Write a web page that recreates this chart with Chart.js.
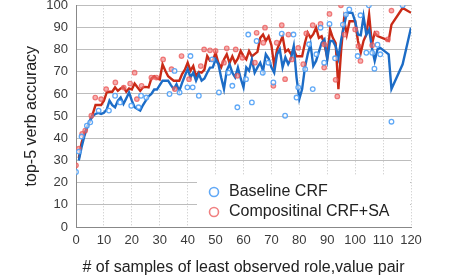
<!DOCTYPE html>
<html>
<head>
<meta charset="utf-8">
<script src="https://cdn.jsdelivr.net/npm/chart.js@4.4.1/dist/chart.umd.min.js"></script>
<style>
html,body{margin:0;padding:0;background:#fff;}
#wrap{width:476px;height:279px;position:relative;}
</style>
</head>
<body>
<div id="wrap"><canvas id="chartzz"></canvas></div>
<script>
// axis ticks
const xTicks = [0,10,20,30,40,50,60,70,80,90,100,110,120];
const yTicks = [0,10,20,30,40,50,60,70,80,90,100];

const seriesNames = ['Baseline CRF', 'Compositinal CRF+SA'];

// Baseline CRF - line
const baseLineX = [1,2,3,4,5,6,7,8,9,10,11,12,13,14,15,16,17,18,19,20,21,22,23,24,25,26,27,28,29,30,
	31,32,33,34,35,36,37,38,39,40,41,42,43,44,45,46,47,48,49,50,51,52,53,54,55,56,57,58,59,60,
	61,62,63,64,65,66,67,68,69,70,71,72,73,74,75,76,77,78,79,80,81,82,83,84,85,86,87,88,89,90,
	91,92,93,94,95,96,97,98,99,100,101,102,103,104,105,106,107,108,109,112,113,117,120];
const baseLineY = [30,36,41,45,48,50,51,51.5,51,51.5,53,57,55,54,57,58.4,55.5,58,60.7,57,54,53.2,52.5,55,57,59,60,62,62,64,
	66,66,66,64,62.2,64.4,61.4,65,68.2,71.2,67.5,69.6,66,69,66,67,69.6,71.9,72,75.6,73.5,67.4,62.2,70.6,73.4,69.6,67.5,71.9,67,63,
	72,70.5,75.6,69.6,72,74.1,70.4,77.9,76,72,69.6,77.9,80.1,72,76.5,73.5,76,81.6,67.4,57.7,62.2,71.9,77.9,82.4,72.6,74.9,79,83.1,84.6,75.6,
	83.9,83.9,81.6,76.3,84.6,90.6,96.6,96.6,96.6,92.8,86.8,86.5,95,86.8,89,80.8,74.9,80.1,80.8,77.9,62.2,73.4,89.9];

// Compositinal CRF+SA - line
const compLineX = [1,2,3,4,5,6,7,8,9,10,11,12,13,14,15,16,17,18,19,20,21,22,23,24,25,26,27,28,29,30,
	31,32,33,34,35,36,37,38,39,40,41,42,43,44,45,46,47,48,49,50,51,52,53,54,55,56,57,58,59,60,
	61,62,63,64,65,66,67,68,69,70,71,72,73,74,75,76,77,78,79,80,81,82,83,84,85,86,87,88,89,90,
	91,92,93,94,95,96,97,98,99,100,101,102,103,104,105,106,107,108,111,112,113,117,120];
const compLineY = [31,38,42,45,48,51,55,55,55,57,60.7,61,61,63,61.4,62.5,63.2,61,62.5,62,64.7,63,61.4,63,63.2,63,67,68,67,66.6,
	73.4,70.5,68,67,66,66,66,69,71,74.1,70.5,72.6,68,70,69.6,71,77.1,75,75,78.6,74,72,75.6,77.9,74,77,74,76,79.4,77,
	75.6,79.4,77,78,79,85.3,86.8,84,86,82,72.6,80,83,86,79,80,78,80,77,77,77,83,87.6,85.3,87,89.9,85.3,86,82.4,76.3,
	89.1,85.3,83,62.2,80.1,93.6,86.8,92.8,92.8,92.8,83.9,78.6,84,86.8,95.8,82.4,87.6,86.1,84.6,84,91.3,98.8,96.6];

// Baseline CRF - scattered samples
const basePtsX = [0,1,2,3.9,5.1,8.1,11.8,14,15.8,19.8,22.4,23.3,25.2,33.5,35.3,37.1,39.9,41,41.8,44,
	48.8,51.2,54.6,56,57.8,60.9,61.7,63,64.7,66.9,68.9,70.7,73.7,74.9,77.9,79,79.6,82.1,83.5,84.8,
	86.1,87.6,88.9,90.8,92.8,95.6,96.7,97.9,100.9,101.9,104,104.9,106.1,106.9,108,109,113,117];
const basePtsY = [24.8,34,40.8,45.7,47.2,52.5,52.5,59.2,56.2,54.7,54,59.2,58.4,60,70.4,60.7,63,77.1,63,59.2,
	75.6,60.7,69.6,63.7,54,66.7,86.8,56.2,83.9,69.6,74.1,65.2,87.2,50.2,86.8,58.4,63,71.2,82.4,62.2,
	77.9,89.9,74.1,91.6,76.1,91.3,95.8,98.1,77.1,95.5,78.6,100,78.6,71.4,82.2,77.9,47.5,100];

// Compositinal CRF+SA - scattered samples
const compPtsX = [0,1,2.2,3.3,5.5,6.9,9,10.8,14.1,17.1,19.4,21,21.8,23.5,27,28.8,31.2,34.2,35.4,37.8,
	40.5,44.7,45.9,48,50,53,54,57.2,57.8,59.6,64.1,64.7,67.1,67.7,70.7,71.9,73.7,74.9,76.1,77.3,
	79.6,81.4,82.5,84.8,87.6,88.9,88.9,90.8,93,93.6,94.9,96.2,100,101.2,101.9,106.1,107.7,111.7,113];
const compPtsY = [27.8,35.3,42,43.5,50.2,58.4,57.7,62.2,65.2,62.9,64.7,69.6,57.7,63.7,67.4,67.4,75.6,71.2,62.2,77.1,
	66.7,72.6,80.1,79.7,79.4,74.1,80.6,80.1,68.2,76.3,74.1,87.6,83.1,89.9,63.7,83.1,91,66.7,86.8,75.6,
	80.8,73.4,87.3,91,91.6,71.9,82.4,96.1,66.4,58.9,100,86.8,89.1,81.6,74.9,82,87.3,84.6,97.6];

const toXY = (xs, ys) => xs.map((x, i) => ({x: x, y: ys[i]}));

const FONT = '"Liberation Sans", Arial, sans-serif';
const blueLine = '#1c6cc6';
const redLine = '#c92a16';
const bluePt = 'rgba(80,160,245,0.9)';
const redPt = 'rgba(235,85,85,0.75)';

// legend drawn inside the plot, bottom right
const boxLegend = {
	id: 'boxLegend',
	beforeDatasetsDraw(chart) {
		const a = chart.chartArea;
		const c = chart.ctx;
		c.save();
		c.fillStyle = '#fff';
		c.fillRect(a.left + 121, a.bottom - 52, a.right - a.left - 122, 51);
		c.restore();
	},
	afterDraw(chart) {
		const a = chart.chartArea;
		const c = chart.ctx;
		const rows = [[seriesNames[0], bluePt], [seriesNames[1], redPt]];
		c.save();
		c.font = '16px ' + FONT;
		c.textBaseline = 'middle';
		c.textAlign = 'left';
		rows.forEach((r, i) => {
			const yy = a.bottom - 35 + i * 20;
			c.beginPath();
			c.arc(a.left + 138, yy, 4.5, 0, Math.PI * 2);
			c.lineWidth = 1.6;
			c.strokeStyle = r[1];
			c.stroke();
			c.fillStyle = '#222';
			c.fillText(r[0], a.left + 153, yy);
		});
		c.restore();
	}
};

const ctx1 = document.getElementById('chartzz');
const chartzz = new Chart(ctx1, {
	type: 'line',
	data: {
		datasets: [
			{
				label: seriesNames[0] + ' samples',
				type: 'scatter',
				data: toXY(basePtsX, basePtsY),
				showLine: false,
				pointRadius: 2.3,
				pointBorderWidth: 1.3,
				borderColor: bluePt,
				backgroundColor: 'rgba(255,255,255,0.6)',
				order: 0
			},
			{
				label: seriesNames[1] + ' samples',
				type: 'scatter',
				data: toXY(compPtsX, compPtsY),
				showLine: false,
				pointRadius: 2.3,
				pointBorderWidth: 1.2,
				borderColor: redPt,
				backgroundColor: 'rgba(240,120,120,0.6)',
				order: 0
			},
			{
				label: seriesNames[0],
				data: toXY(baseLineX, baseLineY),
				borderColor: blueLine,
				borderWidth: 2.4,
				pointRadius: 0,
				tension: 0,
				order: 1
			},
			{
				label: seriesNames[1],
				data: toXY(compLineX, compLineY),
				borderColor: redLine,
				borderWidth: 2.4,
				pointRadius: 0,
				tension: 0,
				order: 1
			}
		]
	},
	options: {
		responsive: true,
		maintainAspectRatio: false,
		animation: false,
		layout: {padding: {left: 22, right: 65, top: 0, bottom: 0}},
		plugins: {
			legend: {display: false},
			tooltip: {enabled: false}
		},
		scales: {
			x: {
				type: 'linear',
				min: 0,
				max: 120,
				afterBuildTicks(s) { s.ticks = xTicks.map(v => ({value: v})); },
				afterFit(s) { s.height = 52; s.paddingRight = 0; s.paddingLeft = 0; },
				ticks: {
					color: '#3a3a3a',
					font: {family: FONT, size: 13},
					padding: 6,
					maxRotation: 0
				},
				grid: {
					drawTicks: false,
					color: c => c.tick && c.tick.value === 0 ? '#888' : '#c4c4c4',
					lineWidth: 1
				},
				border: {color: '#888', width: 1, dash: c => (c.tick && c.tick.value !== 0) ? [1, 2] : []},
				title: {
					display: true,
					text: '# of samples of least observed role,value pair',
					color: '#222',
					font: {family: FONT, size: 16},
					padding: {top: 2, bottom: 2}
				}
			},
			y: {
				min: 0,
				max: 100,
				ticks: {
					stepSize: 5,
					color: '#3a3a3a',
					font: {family: FONT, size: 13},
					padding: 8,
					callback: v => (v % 10 === 0 ? v : '')
				},
				afterFit(s) { s.width = 54; s.paddingTop = 5; s.paddingBottom = 0; },
				grid: {
					drawTicks: false,
					color: c => {
						if (!c.tick) return '#bbb';
						if (c.tick.value === 0) return '#888';
						return c.tick.value % 10 === 0 ? '#bdbdbd' : '#cfcfcf';
					},
					lineWidth: 1
				},
				border: {color: '#888', width: 1, dash: c => (c.tick && c.tick.value % 10 !== 0) ? [1, 2] : []},
				title: {
					display: true,
					text: 'top-5 verb accuracy',
					color: '#222',
					font: {family: FONT, size: 16},
					padding: {top: 0, bottom: 0}
				}
			}
		}
	},
	plugins: [boxLegend]
});
</script>
</body>
</html>
